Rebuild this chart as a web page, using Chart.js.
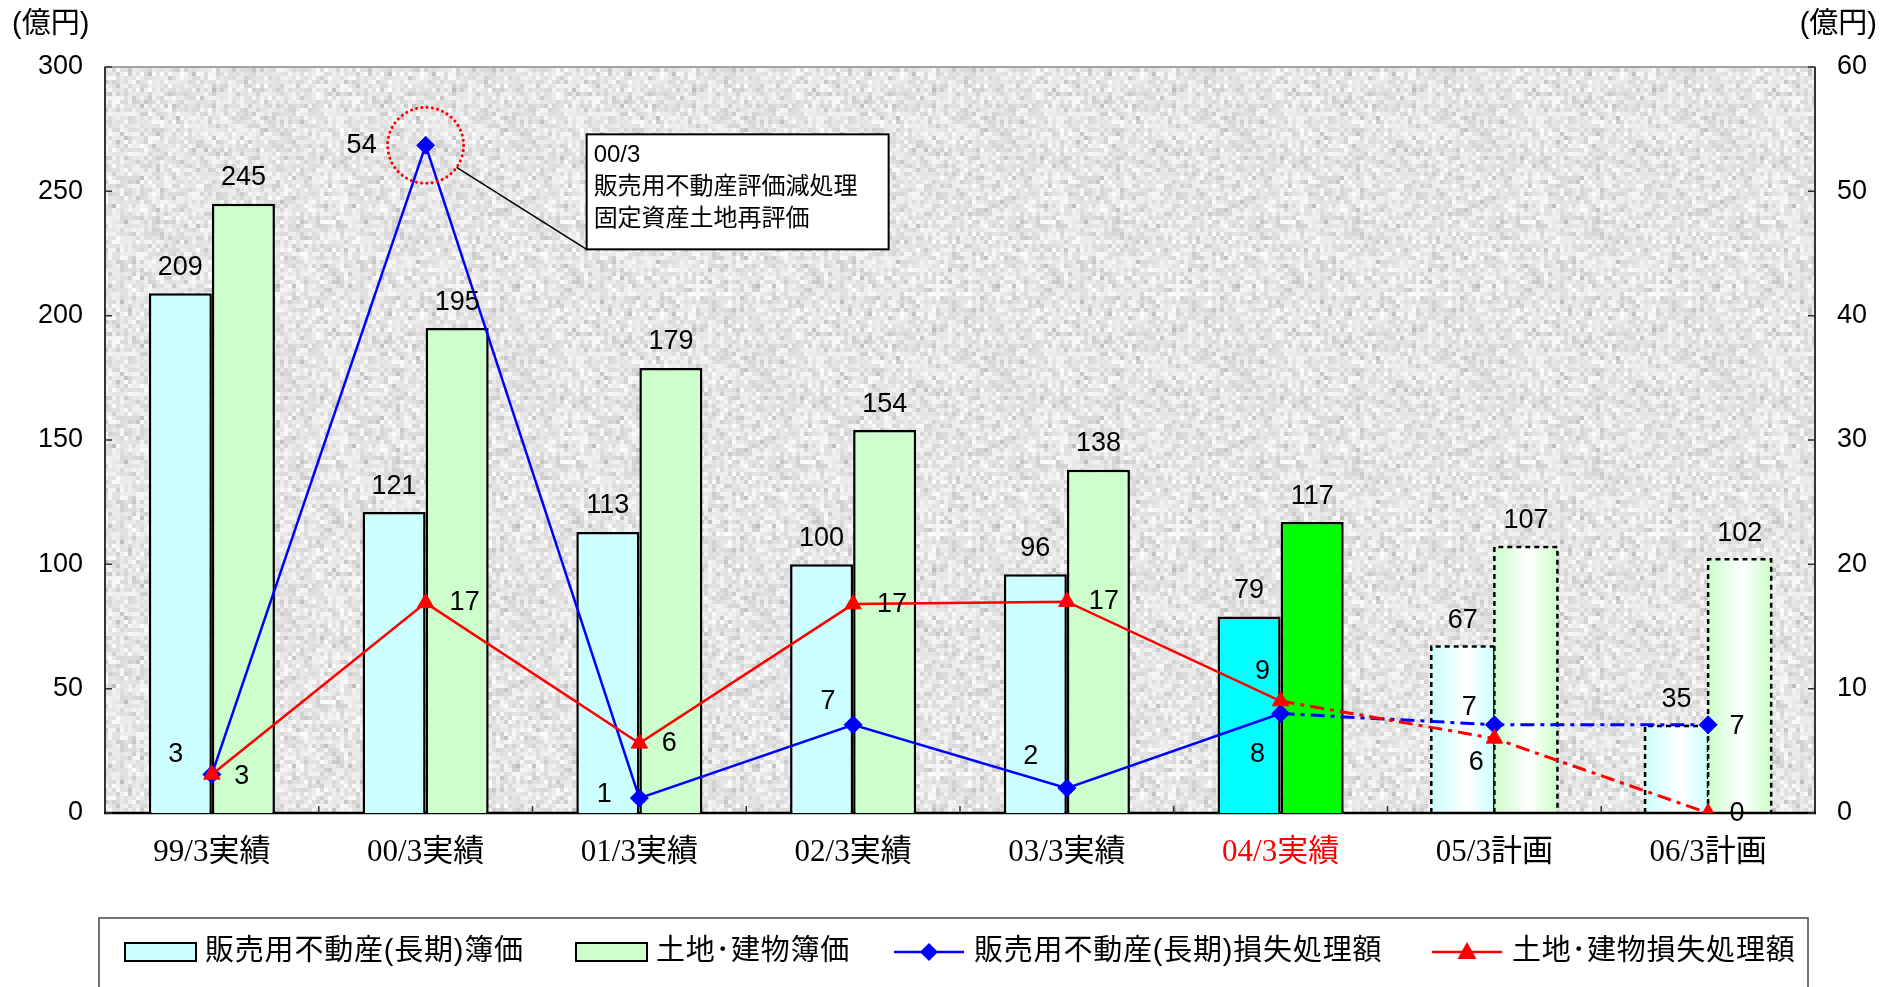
<!DOCTYPE html>
<html>
<head>
<meta charset="utf-8">
<script src="https://cdn.jsdelivr.net/npm/chart.js@4.4.0/dist/chart.umd.min.js"></script>
<style>
html, body { margin: 0; padding: 0; background: #fff; }
</style>
</head>
<body>
<canvas id="chart" width="1890" height="987"></canvas>
<script>
// categories / values
const categories = ['99/3実績', '00/3実績', '01/3実績', '02/3実績', '03/3実績', '04/3実績', '05/3計画', '06/3計画'];
const bookSales = [209, 121, 113, 100, 96, 79, 67, 35];        // 販売用不動産(長期)簿価
const bookLand = [245, 195, 179, 154, 138, 117, 107, 102];     // 土地･建物簿価
const lossSales = [3.1, 53.7, 1.2, 7.1, 2.0, 8.0, 7.1, 7.1];   // 販売用不動産(長期)損失処理額
const lossLand = [3.1, 16.9, 5.6, 16.8, 17.0, 9.0, 6.0, 0];    // 土地･建物損失処理額
const seriesNames = ['販売用不動産(長期)簿価', '土地･建物簿価', '販売用不動産(長期)損失処理額', '土地･建物損失処理額'];
const noteLines = ['00/3', '販売用不動産評価減処理', '固定資産土地再評価'];

// label offsets for the line values (layout only)
const salesLabelOff = [[-36, -20], [-64, 0], [-35, -4], [-25, -23], [-36, -32], [-23, 41], [-25, -17], [29, 2]];
const landLabelOff = [[30, 2], [39, 0], [30, 0], [39, 0], [37, 0], [-18, -30], [-18, 24], [29, 1]];

const PLAN_FROM = 6;   // 計画 columns
const DASH_FROM = 5;   // dash-dot segments start here

const numFont = "27px 'Liberation Sans', Arial, sans-serif";
const jpFont = "'Liberation Sans', 'Noto Sans CJK JP', sans-serif";

// texture for the plot area
function makeNoise() {
    const c = document.createElement('canvas');
    c.width = 240; c.height = 240;
    const g = c.getContext('2d');
    let s = 987654321;
    const rnd = () => { s = (Math.imul(s, 1103515245) + 12345) >>> 0; return (s >>> 8) / 16777216; };
    for (let y = 0; y < 240; y += 4) {
        for (let x = 0; x < 240; x += 4) {
            const v = Math.round(254 - rnd() * 30 - rnd() * rnd() * 40);
            g.fillStyle = 'rgb(' + v + ',' + v + ',' + v + ')';
            g.fillRect(x, y, 4, 4);
        }
    }
    return c;
}
const noise = makeNoise();

const backPlugin = {
    id: 'back',
    beforeDatasetsDraw(chart) {
        const ctx = chart.ctx, a = chart.chartArea;
        ctx.save();
        ctx.fillStyle = ctx.createPattern(noise, 'repeat');
        ctx.fillRect(a.left, a.top, a.right - a.left, a.bottom - a.top);

        // planned bars: soft gradient + dashed outline
        const fills = ['#CCFFFF', '#CCFFCC'];
        [0, 1].forEach(d => {
            chart.getDatasetMeta(d).data.forEach((bar, i) => {
                if (i < PLAN_FROM) return;
                const l = bar.x - bar.width / 2, r = bar.x + bar.width / 2;
                const gr = ctx.createLinearGradient(l, 0, r, 0);
                gr.addColorStop(0, fills[d]);
                gr.addColorStop(0.55, '#FFFFFF');
                gr.addColorStop(1, fills[d]);
                ctx.fillStyle = gr;
                ctx.fillRect(l, bar.y, r - l, bar.base - bar.y);
                ctx.strokeStyle = '#000';
                ctx.lineWidth = 2.5;
                ctx.setLineDash([5, 4]);
                ctx.beginPath();
                ctx.moveTo(l, bar.base); ctx.lineTo(l, bar.y); ctx.lineTo(r, bar.y); ctx.lineTo(r, bar.base);
                ctx.stroke();
                ctx.setLineDash([]);
            });
        });

        // frame
        ctx.strokeStyle = '#888';
        ctx.lineWidth = 1.5;
        ctx.strokeRect(a.left, a.top, a.right - a.left, a.bottom - a.top);
        ctx.strokeStyle = '#333';
        ctx.lineWidth = 2;
        ctx.beginPath();
        ctx.moveTo(a.left, a.top); ctx.lineTo(a.left, a.bottom);
        ctx.moveTo(a.right, a.top); ctx.lineTo(a.right, a.bottom);
        ctx.stroke();
        ctx.strokeStyle = '#000';
        ctx.lineWidth = 2.5;
        ctx.beginPath();
        ctx.moveTo(a.left - 1, a.bottom); ctx.lineTo(a.right + 1, a.bottom);
        ctx.stroke();

        // inner tick marks
        ctx.lineWidth = 1.5;
        ctx.strokeStyle = '#333';
        ctx.beginPath();
        chart.scales.y.ticks.forEach(t => {
            const y = chart.scales.y.getPixelForValue(t.value);
            ctx.moveTo(a.left, y); ctx.lineTo(a.left + 7, y);
        });
        chart.scales.y2.ticks.forEach(t => {
            const y = chart.scales.y2.getPixelForValue(t.value);
            ctx.moveTo(a.right, y); ctx.lineTo(a.right - 7, y);
        });
        const step = (a.right - a.left) / categories.length;
        for (let i = 1; i < categories.length; i++) {
            const x = a.left + step * i;
            ctx.moveTo(x, a.bottom); ctx.lineTo(x, a.bottom - 7);
        }
        ctx.stroke();
        ctx.restore();
    }
};

function drawMarker(ctx, style, x, y, r, color) {
    ctx.fillStyle = color;
    ctx.beginPath();
    if (style === 'rectRot') {
        ctx.moveTo(x, y - r); ctx.lineTo(x + r, y); ctx.lineTo(x, y + r); ctx.lineTo(x - r, y);
    } else {
        ctx.moveTo(x, y - r); ctx.lineTo(x + r * 0.95, y + r * 0.7); ctx.lineTo(x - r * 0.95, y + r * 0.7);
    }
    ctx.closePath();
    ctx.fill();
}

const textPlugin = {
    id: 'texts',
    afterDraw(chart) {
        const ctx = chart.ctx;
        ctx.save();
        ctx.fillStyle = '#000';
        ctx.textBaseline = 'middle';

        // bar values
        ctx.font = numFont;
        ctx.textAlign = 'center';
        [0, 1].forEach(d => {
            const ds = chart.data.datasets[d];
            chart.getDatasetMeta(d).data.forEach((bar, i) => {
                ctx.fillText(String(ds.data[i]), bar.x, bar.y - 26);
            });
        });

        // line values
        [[2, salesLabelOff], [3, landLabelOff]].forEach(([d, off]) => {
            const ds = chart.data.datasets[d];
            chart.getDatasetMeta(d).data.forEach((pt, i) => {
                ctx.fillText(String(Math.round(ds.data[i])), pt.x + off[i][0], pt.y + off[i][1]);
            });
        });

        // units
        ctx.font = "29px " + jpFont;
        ctx.textAlign = 'left';
        ctx.fillText('(億円)', 12, 25);
        ctx.textAlign = 'right';
        ctx.fillText('(億円)', 1877, 25);

        // callout on the 00/3 loss
        const p = chart.getDatasetMeta(2).data[1];
        ctx.strokeStyle = '#FF0000';
        ctx.lineWidth = 3;
        ctx.lineCap = 'round';
        ctx.setLineDash([0.1, 5.2]);
        ctx.beginPath();
        ctx.arc(p.x, p.y, 38, 0, Math.PI * 2);
        ctx.stroke();
        ctx.setLineDash([]);
        ctx.lineCap = 'butt';
        const bx = p.x + 161, by = p.y - 11, bw = 302, bh = 115;
        ctx.strokeStyle = '#000';
        ctx.lineWidth = 1.5;
        ctx.beginPath();
        ctx.moveTo(p.x + 31, p.y + 22);
        ctx.lineTo(bx, by + bh);
        ctx.stroke();
        ctx.fillStyle = '#fff';
        ctx.fillRect(bx, by, bw, bh);
        ctx.lineWidth = 2;
        ctx.strokeRect(bx, by, bw, bh);
        ctx.fillStyle = '#000';
        ctx.textAlign = 'left';
        ctx.font = "24px " + jpFont;
        noteLines.forEach((t, i) => ctx.fillText(t, bx + 7, by + 21 + i * 32));

        // legend
        const ly = 952;
        ctx.strokeStyle = '#444';
        ctx.lineWidth = 1.5;
        ctx.strokeRect(99, 918, 1709, 120);
        ctx.font = "29px " + jpFont;
        ctx.letterSpacing = '0.8px';
        ctx.textAlign = 'left';
        const swatch = [['#CCFFFF', 125, 205], ['#CCFFCC', 576, 656]];
        swatch.forEach(([c, x, tx], i) => {
            ctx.fillStyle = c;
            ctx.fillRect(x, ly - 9, 71, 18);
            ctx.strokeStyle = '#000';
            ctx.lineWidth = 2;
            ctx.strokeRect(x, ly - 9, 71, 18);
            ctx.fillStyle = '#000';
            ctx.fillText(seriesNames[i], tx, ly);
        });
        const lineItems = [['#0000FF', 'rectRot', 894, 974, 9], ['#FF0000', 'triangle', 1432, 1512, 10]];
        lineItems.forEach(([c, st, x, tx, r], i) => {
            ctx.strokeStyle = c;
            ctx.lineWidth = 2.5;
            ctx.beginPath();
            ctx.moveTo(x, ly); ctx.lineTo(x + 70, ly);
            ctx.stroke();
            drawMarker(ctx, st, x + 35, ly, r, c);
            ctx.fillStyle = '#000';
            ctx.fillText(seriesNames[i + 2], tx, ly);
        });
        ctx.restore();
    }
};

const dashDot = [14, 6, 4, 6];

new Chart(document.getElementById('chart'), {
    data: {
        labels: categories,
        datasets: [
            {
                type: 'bar',
                label: seriesNames[0],
                data: bookSales,
                yAxisID: 'y',
                backgroundColor: ['#CCFFFF', '#CCFFFF', '#CCFFFF', '#CCFFFF', '#CCFFFF', '#00FFFF', 'rgba(0,0,0,0)', 'rgba(0,0,0,0)'],
                borderColor: '#000',
                borderWidth: ctx => ctx.dataIndex >= PLAN_FROM ? 0 : 2.5,
                borderSkipped: 'start',
                categoryPercentage: 0.59,
                barPercentage: 1,
                order: 2
            },
            {
                type: 'bar',
                label: seriesNames[1],
                data: bookLand,
                yAxisID: 'y',
                backgroundColor: ['#CCFFCC', '#CCFFCC', '#CCFFCC', '#CCFFCC', '#CCFFCC', '#00FF00', 'rgba(0,0,0,0)', 'rgba(0,0,0,0)'],
                borderColor: '#000',
                borderWidth: ctx => ctx.dataIndex >= PLAN_FROM ? 0 : 2.5,
                borderSkipped: 'start',
                categoryPercentage: 0.59,
                barPercentage: 1,
                order: 2
            },
            {
                type: 'line',
                label: seriesNames[2],
                data: lossSales,
                yAxisID: 'y2',
                borderColor: '#0000FF',
                borderWidth: 2.5,
                pointStyle: 'rectRot',
                pointRadius: 9,
                pointBackgroundColor: '#0000FF',
                pointBorderColor: '#0000FF',
                pointBorderWidth: 1,
                tension: 0,
                segment: {
                    borderDash: c => c.p0DataIndex >= DASH_FROM ? dashDot : undefined,
                    borderWidth: c => c.p0DataIndex >= DASH_FROM ? 3 : undefined
                },
                order: 1
            },
            {
                type: 'line',
                label: seriesNames[3],
                data: lossLand,
                yAxisID: 'y2',
                borderColor: '#FF0000',
                borderWidth: 2.5,
                pointStyle: 'triangle',
                pointRadius: 9.5,
                pointBackgroundColor: '#FF0000',
                pointBorderColor: '#FF0000',
                pointBorderWidth: 1,
                tension: 0,
                segment: {
                    borderDash: c => c.p0DataIndex >= DASH_FROM ? dashDot : undefined,
                    borderWidth: c => c.p0DataIndex >= DASH_FROM ? 3 : undefined
                },
                order: 0
            }
        ]
    },
    options: {
        responsive: false,
        animation: false,
        devicePixelRatio: 1,
        layout: { padding: { top: 67, left: 0, right: 0, bottom: 0 } },
        plugins: {
            legend: { display: false },
            tooltip: { enabled: false }
        },
        scales: {
            x: {
                grid: { display: false, drawTicks: false },
                border: { display: false },
                ticks: {
                    autoSkip: false,
                    maxRotation: 0,
                    padding: 21,
                    font: { family: "'Liberation Serif', 'Noto Sans CJK JP'", size: 31 },
                    color: c => c.index === 5 ? '#FF0000' : '#000'
                },
                afterFit(s) { s.height = 174; }
            },
            y: {
                position: 'left',
                min: 0,
                max: 300,
                grid: { display: false, drawTicks: false },
                border: { display: false },
                ticks: { stepSize: 50, padding: 22, color: '#000', font: { family: "'Liberation Sans'", size: 27 } },
                afterFit(s) { s.width = 105; }
            },
            y2: {
                position: 'right',
                min: 0,
                max: 60,
                grid: { display: false, drawTicks: false },
                border: { display: false },
                ticks: { stepSize: 10, padding: 22, color: '#000', font: { family: "'Liberation Sans'", size: 27 } },
                afterFit(s) { s.width = 75; }
            }
        }
    },
    plugins: [backPlugin, textPlugin]
});
</script>
</body>
</html>
